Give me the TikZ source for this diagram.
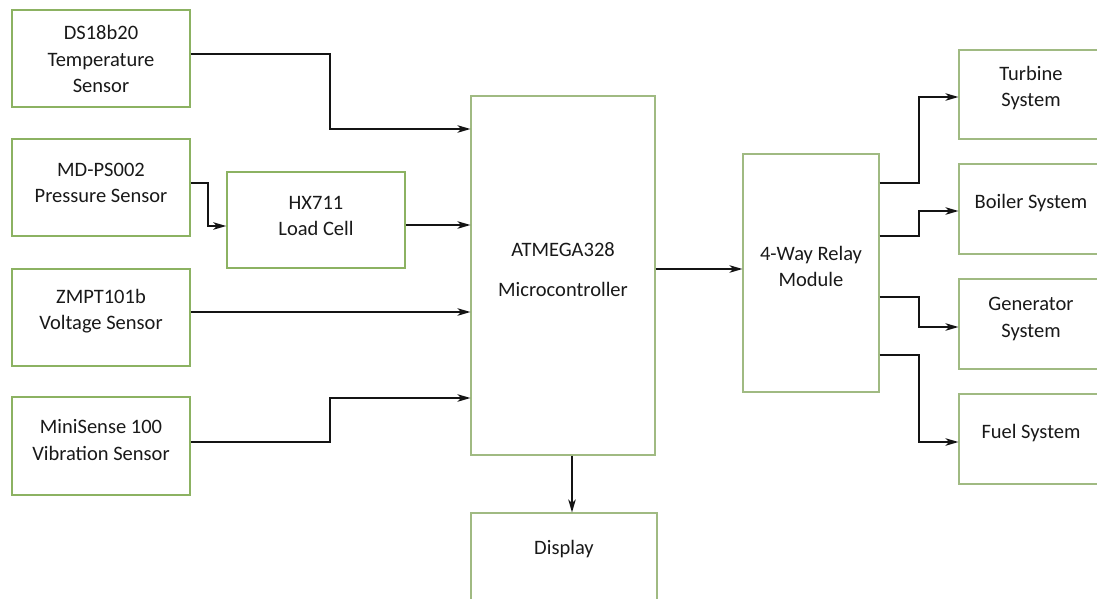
\documentclass[tikz,border=0pt]{standalone}
\usepackage{fontspec}
\setmainfont{Carlito}
\usetikzlibrary{arrows.meta}
\definecolor{sgreen}{RGB}{140,178,98}
\definecolor{bgreen}{RGB}{160,186,130}
\definecolor{txtcol}{RGB}{25,25,25}
\definecolor{arrcol}{RGB}{20,20,20}
\tikzset{
  sbox/.style={draw=sgreen, line width=1.6pt, rectangle, inner sep=0pt, fill=white},
  bbox/.style={draw=bgreen, line width=1.1pt, rectangle, inner sep=0pt, fill=white},
  txt/.style={align=center, text=txtcol, font=\fontsize{20.5}{26.5}\selectfont, inner sep=0pt},
  arr/.style={draw=arrcol, line width=1.7pt, -{Stealth[length=13pt,width=7.5pt,inset=3.5pt]}},
}
\begin{document}
\begin{tikzpicture}[x=1pt,y=-1pt]
\useasboundingbox (0,0) rectangle (1097,598);
\fill[white] (0,0) rectangle (1097,598);
\clip (0,0) rectangle (1097,598);
% sensors
\node[sbox, minimum width=178pt, minimum height=97pt] (ds) at (101,58.5) {};
\node[sbox, minimum width=178pt, minimum height=97pt] (md) at (101,187.5) {};
\node[sbox, minimum width=178pt, minimum height=97pt] (zm) at (101,317.5) {};
\node[sbox, minimum width=178pt, minimum height=98pt] (mini) at (101,446) {};
\node[sbox, minimum width=178pt, minimum height=96pt] (hx) at (316,220) {};
\node[txt] (dst) at (101,59) {DS18b20\\Temperature\\Sensor};
\node[txt] (mdt) at (101,183) {MD-PS002\\Pressure Sensor};
\node[txt] (zmt) at (101,311) {ZMPT101b\\Voltage Sensor};
\node[txt] (minit) at (101,440) {MiniSense 100\\Vibration Sensor};
\node[txt] (hxt) at (316,216) {HX711\\Load Cell};
% controller and display
\node[bbox, minimum width=184pt, minimum height=359pt] (mcu) at (563,275.5) {};
\node[txt] (mcut) at (563,269.5) {ATMEGA328\\[13pt]Microcontroller};
\node[bbox, minimum width=186pt, minimum height=100pt] (disp) at (564,563) {};
\node[txt] (dispt) at (564,549) {Display};
% relay
\node[bbox, minimum width=136pt, minimum height=238pt] (relay) at (811,273) {};
\node[txt] (relayt) at (811,266.5) {4-Way Relay\\Module};
% outputs
\node[bbox, minimum width=144pt, minimum height=89pt] (turb) at (1031,94.5) {};
\node[bbox, minimum width=144pt, minimum height=90pt] (boil) at (1031,209) {};
\node[bbox, minimum width=144pt, minimum height=90pt] (gen) at (1031,324) {};
\node[bbox, minimum width=144pt, minimum height=90pt] (fuel) at (1031,439) {};
\node[txt] (turbt) at (1031,88) {Turbine\\System};
\node[txt] (boilt) at (1031,203) {Boiler System};
\node[txt] (gent) at (1031,319) {Generator\\System};
\node[txt] (fuelt) at (1031,433) {Fuel System};
% connectors
\draw[arr] (ds.east |- 0,54) -- (330,54) |- (mcu.west |- 0,129);
\draw[arr] (md.east |- 0,183) -- (208,183) |- (hx.west |- 0,226);
\draw[arr] (hx.east |- 0,225) -- (mcu.west |- 0,225);
\draw[arr] (zm.east |- 0,312) -- (mcu.west |- 0,312);
\draw[arr] (mini.east |- 0,442) -- (330,442) |- (mcu.west |- 0,398);
\draw[arr] (mcu.south -| 572,0) -- (disp.north -| 572,0);
\draw[arr] (mcu.east |- 0,269) -- (relay.west |- 0,269);
\draw[arr] (relay.east |- 0,183) -- (919,183) |- (turb.west |- 0,97);
\draw[arr] (relay.east |- 0,236) -- (919,236) |- (boil.west |- 0,211);
\draw[arr] (relay.east |- 0,297) -- (919,297) |- (gen.west |- 0,327);
\draw[arr] (relay.east |- 0,355) -- (919,355) |- (fuel.west |- 0,442);
\end{tikzpicture}
\end{document}
